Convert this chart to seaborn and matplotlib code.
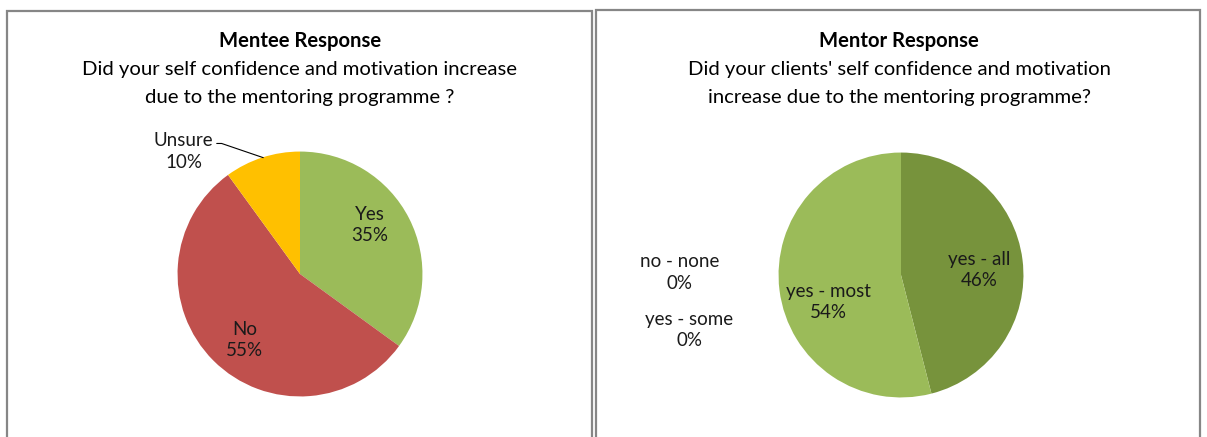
import matplotlib
matplotlib.use("Agg")
import matplotlib.pyplot as plt
from matplotlib.patches import Rectangle
import seaborn as sns

sns.set_theme(style="white")
plt.rcParams["font.family"] = ["Lato", "DejaVu Sans"]

# Mentee survey
mentee_labels = ["Yes", "No", "Unsure"]
mentee_values = [35, 55, 10]
mentee_colors = ["#9BBB59", "#C0504D", "#FFC000"]

# Mentor survey
mentor_labels = ["yes - all", "yes - most", "no - none", "yes - some"]
mentor_values = [46, 54, 0, 0]
mentor_colors = ["#77933C", "#9BBB59", "#4F81BD", "#F79646"]

W, H = 1207, 437
fig = plt.figure(figsize=(W / 100, H / 100), dpi=100)
fig.patch.set_facecolor("white")

# panel frames
for x0, x1, y0 in [(7, 592, 11), (596, 1200, 10)]:
    fig.patches.append(Rectangle((x0 / W, -0.05), (x1 - x0) / W, (H - y0) / H + 0.05,
                                 transform=fig.transFigure, fill=False,
                                 edgecolor="#868686", linewidth=1.6))

SIZE, LIM = 300, 1.225

def pie_axes(cx, cy):
    ax = fig.add_axes([(cx - SIZE / 2) / W, (H - cy - SIZE / 2) / H, SIZE / W, SIZE / H])
    ax.axis("off")
    return ax

def fix_limits(ax):
    # pie() resets the limits, so apply the shared scale afterwards
    ax.set_xlim(-LIM, LIM)
    ax.set_ylim(-LIM, LIM)
    ax.set_aspect("equal")

def title(cx, lines):
    y0 = 41
    fig.text(cx / W, 1 - y0 / H, lines[0], ha="center", va="center",
             fontsize=14.6, fontweight="bold", color="black")
    for i, ln in enumerate(lines[1:], start=1):
        fig.text(cx / W, 1 - (y0 + 28 * i) / H, ln, ha="center", va="center",
                 fontsize=14.6, color="black")

TXT = dict(ha="center", va="center", fontsize=13.5, color="#1a1a1a", linespacing=1.3)

# Mentee pie
ax1 = pie_axes(300, 274)
ax1.pie(mentee_values, colors=mentee_colors, startangle=90, counterclock=False,
        wedgeprops=dict(linewidth=0))
fix_limits(ax1)
pos1 = {"Yes": (0.57, 0.40), "No": (-0.45, -0.54), "Unsure": (-0.95, 1.00)}
for lab, val in zip(mentee_labels, mentee_values):
    x, y = pos1[lab]
    ax1.text(x, y, f"{lab}\n{val}%", **TXT)
ax1.plot([-0.68, -0.64, -0.30], [1.066, 1.066, 0.95], color="black", linewidth=0.8,
         clip_on=False)
title(300, ["Mentee Response",
            "Did your self confidence and motivation increase",
            "due to the mentoring programme ?"])

# Mentor pie
ax2 = pie_axes(901, 275)
ax2.pie(mentor_values, colors=mentor_colors, startangle=90, counterclock=False,
        wedgeprops=dict(linewidth=0))
fix_limits(ax2)
pos2 = {"yes - all": (0.64, 0.04), "yes - most": (-0.59, -0.22),
        "no - none": (-1.81, 0.02), "yes - some": (-1.73, -0.45)}
for lab, val in zip(mentor_labels, mentor_values):
    x, y = pos2[lab]
    ax2.text(x, y, f"{lab}\n{val}%", clip_on=False, **TXT)
title(899, ["Mentor Response",
            "Did your clients' self confidence and motivation",
            "increase due to the mentoring programme?"])

fig.savefig("out.png", dpi=100, facecolor="white")
